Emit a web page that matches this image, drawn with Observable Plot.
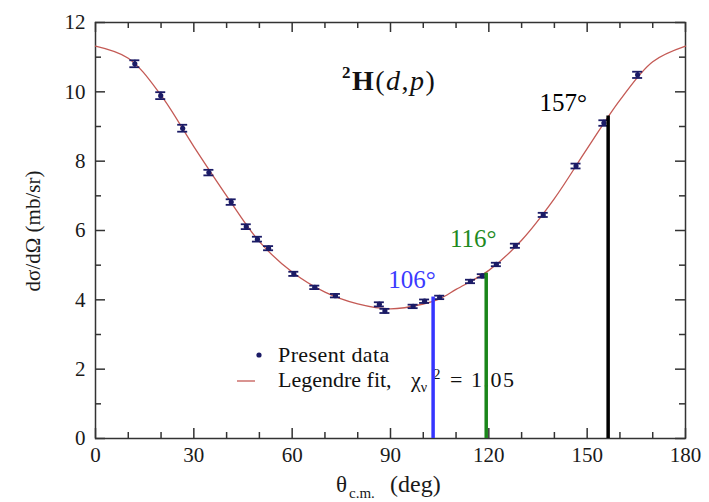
<!DOCTYPE html>
<html>
<head>
<meta charset="utf-8">
<script src="https://cdn.jsdelivr.net/npm/d3@7"></script>
<script src="https://cdn.jsdelivr.net/npm/@observablehq/plot@0.6"></script>
<style>
  html, body { margin: 0; padding: 0; background: #fff; }
  #chart svg { display: block; }
  #chart svg text { font-family: "Liberation Serif", "Times New Roman", serif; }
</style>
</head>
<body>
<div id="chart"></div>
<script>
// Measured 2H(d,p) angular distribution (centre-of-mass angle, mb/sr)
const thetaCm = [12.0, 19.9, 26.6, 34.6, 41.4, 46.0, 49.4, 52.8, 60.5, 66.9, 73.2, 86.6,
                 88.3, 96.9, 100.4, 105.0, 114.4, 118.0, 122.3, 128.1, 136.6, 146.6, 155.1, 165.4];
const crossSection = [10.81, 9.89, 8.95, 7.67, 6.82, 6.11, 5.75, 5.49, 4.75, 4.36, 4.12, 3.87,
                      3.68, 3.81, 3.96, 4.07, 4.53, 4.69, 5.02, 5.56, 6.45, 7.86, 9.10, 10.49];
const crossSectionErr = [0.10, 0.10, 0.10, 0.08, 0.08, 0.07, 0.07, 0.06, 0.06, 0.05, 0.05, 0.06,
                         0.06, 0.05, 0.05, 0.05, 0.05, 0.05, 0.05, 0.06, 0.06, 0.07, 0.08, 0.09];

// Legendre-polynomial fit curve
const fitTheta = [0, 10, 20, 30, 40, 50, 60, 70, 80, 90, 100, 105, 110, 120, 130, 140, 150, 160, 170, 180];
const fitSigma = [11.32, 10.97, 9.90, 8.42, 7.00, 5.68, 4.80, 4.22, 3.88, 3.74, 3.88, 4.03, 4.30, 4.85, 5.72, 6.92, 8.36, 9.76, 10.87, 11.32];

// Detector angles: lab-frame label and the matching c.m. angle
const detectorLab = ["106°", "116°", "157°"];
const detectorCm = [103.0, 119.2, 156.4];
const detectorSigma = [4.08, 4.77, 9.30];

// Axis ticks
const xMajor = [0, 30, 60, 90, 120, 150, 180];
const xMinor = [10, 20, 40, 50, 70, 80, 100, 110, 130, 140, 160, 170];
const yMajor = [0, 2, 4, 6, 8, 10, 12];
const yMinor = [1, 3, 5, 7, 9, 11];

const points = thetaCm.map((t, i) => ({theta: t, sigma: crossSection[i], err: crossSectionErr[i]}));
const fit = fitTheta.map((t, i) => ({theta: t, sigma: fitSigma[i]}));
const detectors = detectorCm.map((t, i) => ({theta: t, sigma: detectorSigma[i], label: detectorLab[i]}));

const W = 709, H = 502;
const mL = 95, mR = 24, mT = 22, mB = 64;
const innerH = H - mT - mB, innerW = W - mL - mR;
const axisColor = "#333";
const navy = "#1b1b66";
const detColors = ["#3535ff", "#1a861a", "#000000"];
const labelColors = ["#3a3aff", "#1f8a1f", "#000000"];
const labelOffsets = [[-21, -17], [-13, -34], [-45, -13]];

const majorLen = 10, minorLen = 6;

const marks = [
  Plot.frame({stroke: axisColor, strokeWidth: 1.5}),
  // inward ticks on all four sides
  Plot.ruleX(xMajor, {x: d => d, insetTop: innerH - majorLen, stroke: axisColor, strokeWidth: 1.5}),
  Plot.ruleX(xMinor, {x: d => d, insetTop: innerH - minorLen, stroke: axisColor, strokeWidth: 1.5}),
  Plot.ruleX(xMajor, {x: d => d, insetBottom: innerH - majorLen, stroke: axisColor, strokeWidth: 1.5}),
  Plot.ruleX(xMinor, {x: d => d, insetBottom: innerH - minorLen, stroke: axisColor, strokeWidth: 1.5}),
  Plot.ruleY(yMajor, {y: d => d, insetRight: innerW - majorLen, stroke: axisColor, strokeWidth: 1.5}),
  Plot.ruleY(yMinor, {y: d => d, insetRight: innerW - minorLen, stroke: axisColor, strokeWidth: 1.5}),
  Plot.ruleY(yMajor, {y: d => d, insetLeft: innerW - majorLen, stroke: axisColor, strokeWidth: 1.5}),
  Plot.ruleY(yMinor, {y: d => d, insetLeft: innerW - minorLen, stroke: axisColor, strokeWidth: 1.5}),
  Plot.axisX({ticks: xMajor, tickSize: 0, tickPadding: 9, label: null, tickFormat: d => String(d), fill: "#1a1a1a"}),
  Plot.axisY({ticks: yMajor, tickSize: 0, tickPadding: 10, label: null, tickFormat: d => String(d), fill: "#1a1a1a"}),
  // fit
  Plot.line(fit, {x: "theta", y: "sigma", curve: "catmull-rom", stroke: "#c45a55", strokeWidth: 1.3}),
  // detector angle markers
  Plot.ruleX(detectors, {x: "theta", y1: 0, y2: "sigma", stroke: (d, i) => detColors[i], strokeWidth: 3.5}),
  // data with error bars
  Plot.ruleX(points, {x: "theta", y1: d => d.sigma - d.err, y2: d => d.sigma + d.err, stroke: navy, strokeWidth: 1.8}),
  Plot.ruleY(points, {y: d => d.sigma + d.err, x1: "theta", x2: "theta", insetLeft: -5, insetRight: -5, stroke: navy, strokeWidth: 1.8}),
  Plot.ruleY(points, {y: d => d.sigma - d.err, x1: "theta", x2: "theta", insetLeft: -5, insetRight: -5, stroke: navy, strokeWidth: 1.8}),
  Plot.dot(points, {x: "theta", y: "sigma", r: 2.6, fill: navy, stroke: "none"})
];

// angle labels above each marker line
detectors.forEach((d, i) => {
  marks.push(Plot.text([d], {
    x: "theta", y: "sigma", text: "label",
    dx: labelOffsets[i][0], dy: labelOffsets[i][1],
    fill: labelColors[i], fontSize: 25, textAnchor: "middle", lineAnchor: "middle"
  }));
});

const chart = Plot.plot({
  width: W, height: H,
  marginLeft: mL, marginRight: mR, marginTop: mT, marginBottom: mB,
  x: {domain: [0, 180]},
  y: {domain: [0, 12]},
  style: {fontFamily: "'Liberation Serif', 'Times New Roman', serif", fontSize: "21px", background: "#fff", color: "#1a1a1a"},
  marks
});

document.getElementById("chart").append(chart);

// Titles, axis labels and legend drawn as SVG text
const svg = d3.select(chart);
const serif = "'Liberation Serif', 'Times New Roman', serif";
const addText = (x, y, size) => svg.append("text")
  .attr("x", x).attr("y", y)
  .attr("text-anchor", "start")
  .attr("font-family", serif).attr("font-size", size).attr("fill", "#111");

// reaction title: 2H(d,p)
const title = addText(342, 90, 28).attr("letter-spacing", 1.5);
title.append("tspan").attr("font-weight", "bold").attr("font-size", 17).attr("dy", -12).text("2");
title.append("tspan").attr("font-weight", "bold").attr("dy", 12).text("H");
title.append("tspan").text("(");
title.append("tspan").attr("font-style", "italic").text("d");
title.append("tspan").text(",");
title.append("tspan").attr("font-style", "italic").text("p");
title.append("tspan").text(")");

// y-axis label
svg.append("text")
  .attr("transform", "translate(40,231) rotate(-90)")
  .attr("text-anchor", "middle")
  .attr("font-family", serif).attr("font-size", 21).attr("fill", "#1a1a1a")
  .text("dσ/dΩ (mb/sr)");

// x-axis label with subscript
const xl = addText(336, 492, 23).attr("fill", "#1a1a1a");
xl.append("tspan").text("θ");
xl.append("tspan").attr("font-size", 15).attr("dy", 6).attr("dx", 2).text("c.m.");
addText(390, 492, 24).attr("fill", "#1a1a1a").text("(deg)");

// legend
svg.append("circle").attr("cx", 259).attr("cy", 355).attr("r", 2.6).attr("fill", navy);
svg.append("line").attr("x1", 237).attr("x2", 255).attr("y1", 381).attr("y2", 381)
  .attr("stroke", "#c45a55").attr("stroke-width", 1.3);
addText(278, 362, 22).attr("letter-spacing", 0.4).text("Present data");
addText(278, 387, 22).text("Legendre fit,");
const chi = addText(411, 387, 22);
chi.append("tspan").text("χ");
chi.append("tspan").attr("font-size", 14).attr("dy", 5).text("ν");
chi.append("tspan").attr("font-size", 15).attr("dy", -13).attr("dx", 6).text("2");
addText(450, 387, 22).text("=");
addText(471, 387, 22).attr("letter-spacing", 1.5).text("1.05");

// marker lines are drawn over the legend text
svg.node().append(...svg.selectAll("g[aria-label='rule']").nodes().filter(g => g.querySelectorAll("line").length === detectors.length));
</script>
</body>
</html>
